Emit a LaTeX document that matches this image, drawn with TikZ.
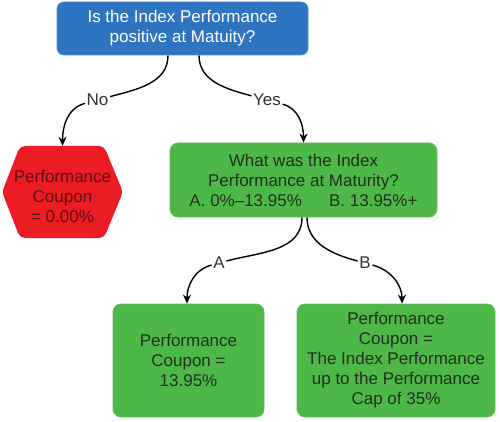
\documentclass[tikz,border=0pt]{standalone}
\usepackage{fontspec}
\setmainfont{Liberation Sans}
\usetikzlibrary{arrows.meta}
\definecolor{qblue}{HTML}{2F74C0}
\definecolor{qblueedge}{HTML}{4A8AD0}
\definecolor{qgreen}{HTML}{4DB748}
\definecolor{qgreenedge}{HTML}{62C25C}
\definecolor{qred}{HTML}{EC1C24}
\definecolor{gtext}{HTML}{22301F}
\definecolor{rtext}{HTML}{5A1212}
\definecolor{ltext}{HTML}{333333}
\tikzset{
  every node/.style={font=\fontsize{17}{20}\selectfont, align=center},
  bluebox/.style={rectangle, rounded corners=7pt, fill=qblue, draw=qblueedge, line width=0.8pt, text=white, inner sep=0pt},
  greenbox/.style={rectangle, rounded corners=8pt, fill=qgreen, draw=qgreenedge, line width=0.8pt, text=gtext, inner sep=0pt},
  redtext/.style={rectangle, draw=none, text=rtext, inner sep=0pt},
  lbl/.style={text=ltext, inner sep=1.5pt},
  conn/.style={line width=1.4pt, black},
  arr/.style={conn, -{Stealth[length=9pt,width=8pt]}},
}
\begin{document}
\begin{tikzpicture}[x=1pt,y=-1pt]
\useasboundingbox (0,0) rectangle (500,422);
\node[bluebox, minimum width=251pt, minimum height=53pt] (top) at (182.5,28.5)
  {\fontsize{17}{21}\selectfont Is the Index Performance\\positive at Matuity?};
\node[redtext, minimum width=121pt, minimum height=92pt] (red) at (62.5,192) {};
\fill[qred, rounded corners=5pt] (2,192) -- (20,146) -- (104,146) -- (123,192) -- (104,238) -- (20,238) -- cycle;
\node[text=rtext] (redtxt) at (62.5,196) {Performance\\Coupon\\= 0.00\%};
\node[greenbox, minimum width=267pt, minimum height=74pt] (q) at (303.5,180)
  {What was the Index\\Performance at Maturity?\\A. 0\%–13.95\%\hspace{1.6em}B. 13.95\%+};
\node[greenbox, minimum width=151pt, minimum height=113pt] (a) at (188.5,360.5)
  {Performance\\Coupon =\\13.95\%};
\node[greenbox, minimum width=198pt, minimum height=113pt] (b) at (396,360.5)
  {Performance\\Coupon =\\The Index Performance\\up to the Performance\\Cap of 35\%};
\node[lbl] (no) at (97.5,100) {No};
\node[lbl] (yes) at (267,100) {Yes};
\node[lbl] (la) at (219,263) {A};
\node[lbl] (lb) at (365,263) {B};
\draw[conn] ([xshift=-14.5pt]top.south) to[out=-90,in=15] (no);
\draw[arr] (no) to[out=195,in=90] (red.north);
\draw[conn] ([xshift=16.5pt]top.south) to[out=-90,in=165] (yes);
\draw[arr] (yes) to[out=-15,in=90] (q.north);
\draw[conn] ([xshift=-1.5pt]q.south) to[out=-90,in=15] (la);
\draw[arr] (la) to[out=195,in=90] ([xshift=-1.5pt]a.north);
\draw[conn] ([xshift=3.5pt]q.south) to[out=-90,in=165] (lb);
\draw[arr] (lb) to[out=-15,in=90] ([xshift=6pt]b.north);
\end{tikzpicture}
\end{document}
